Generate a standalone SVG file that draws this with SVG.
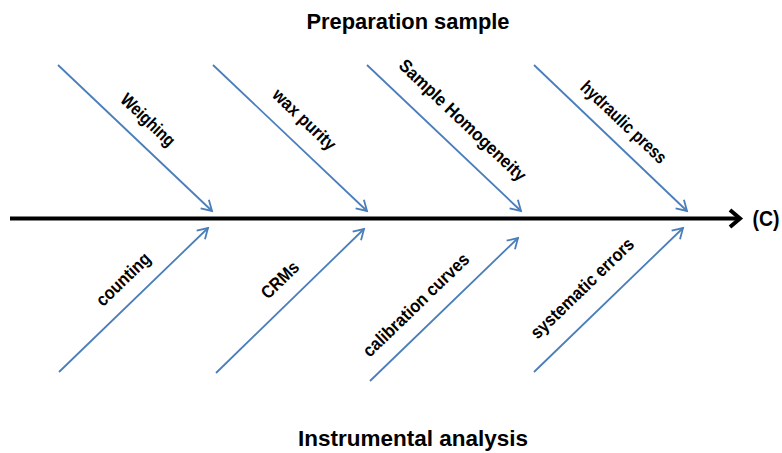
<svg xmlns="http://www.w3.org/2000/svg" width="782" height="453" viewBox="0 0 782 453">
<style>
.lbl{font-family:"Liberation Sans",Arial,sans-serif;font-weight:bold;font-size:18px;fill:#000}
.ttl{font-family:"Liberation Sans",Arial,sans-serif;font-weight:bold;font-size:22px;fill:#000}
.bone{stroke:#4A7EBB;stroke-width:1.8;fill:none}
</style>
<defs>
<marker id="ba" markerUnits="userSpaceOnUse" markerWidth="16" markerHeight="16" viewBox="-12 -8 14 16" refX="0" refY="0" orient="auto">
<path d="M-10,-6 L0,0 L-10,6" fill="none" stroke="#4A7EBB" stroke-width="1.8"/>
</marker>
<marker id="ma" markerUnits="userSpaceOnUse" markerWidth="20" markerHeight="22" viewBox="-14 -11 18 22" refX="0" refY="0" orient="auto">
<path d="M-10,-8.5 L0,0 L-10,8.5" fill="none" stroke="#000" stroke-width="4"/>
</marker>
</defs>
<rect width="782" height="453" fill="#fff"/>
<g id="connectors">
<line x1="10" y1="218.5" x2="740" y2="218.5" stroke="#000" stroke-width="4" marker-end="url(#ma)"/>
<line class="bone" x1="58" y1="65" x2="212" y2="211" marker-end="url(#ba)"/>
<line class="bone" x1="213" y1="65" x2="367" y2="211" marker-end="url(#ba)"/>
<line class="bone" x1="367" y1="65" x2="521" y2="211" marker-end="url(#ba)"/>
<line class="bone" x1="534" y1="65" x2="687" y2="211" marker-end="url(#ba)"/>
<line class="bone" x1="59" y1="372" x2="208" y2="228" marker-end="url(#ba)"/>
<line class="bone" x1="216" y1="373" x2="364" y2="229" marker-end="url(#ba)"/>
<line class="bone" x1="370" y1="381" x2="518" y2="238" marker-end="url(#ba)"/>
<line class="bone" x1="534" y1="372" x2="683" y2="228" marker-end="url(#ba)"/>
</g>
<g id="title-top"><text class="ttl" x="408" y="29" text-anchor="middle" textLength="203" lengthAdjust="spacingAndGlyphs">Preparation sample</text></g>
<g id="title-bottom"><text class="ttl" x="413" y="446" text-anchor="middle" textLength="230" lengthAdjust="spacingAndGlyphs">Instrumental analysis</text></g>
<g id="effect"><text class="ttl" x="766" y="226" text-anchor="middle" textLength="27" lengthAdjust="spacingAndGlyphs">(C)</text></g>
<g id="weighing"><text class="lbl" transform="translate(148,120) rotate(43.5)" y="6" text-anchor="middle" textLength="68" lengthAdjust="spacingAndGlyphs">Weighing</text></g>
<g id="wax-purity"><text class="lbl" transform="translate(303,121) rotate(43.5)" y="4" text-anchor="middle" textLength="80" lengthAdjust="spacingAndGlyphs">wax purity</text></g>
<g id="sample-homogeneity"><text class="lbl" transform="translate(462,121) rotate(43.5)" y="5" text-anchor="middle" textLength="168" lengthAdjust="spacingAndGlyphs">Sample Homogeneity</text></g>
<g id="hydraulic-press"><text class="lbl" transform="translate(623,123) rotate(43.5)" y="5" text-anchor="middle" textLength="111" lengthAdjust="spacingAndGlyphs">hydraulic press</text></g>
<g id="counting"><text class="lbl" transform="translate(124,280) rotate(-44)" y="5" text-anchor="middle" textLength="68" lengthAdjust="spacingAndGlyphs">counting</text></g>
<g id="crms"><text class="lbl" transform="translate(280,280) rotate(-44)" y="6" text-anchor="middle" textLength="45" lengthAdjust="spacingAndGlyphs">CRMs</text></g>
<g id="calibration-curves"><text class="lbl" transform="translate(416,305) rotate(-44)" y="6" text-anchor="middle" textLength="140" lengthAdjust="spacingAndGlyphs">calibration curves</text></g>
<g id="systematic-errors"><text class="lbl" transform="translate(583,289) rotate(-44)" y="5" text-anchor="middle" textLength="136" lengthAdjust="spacingAndGlyphs">systematic errors</text></g>
</svg>
